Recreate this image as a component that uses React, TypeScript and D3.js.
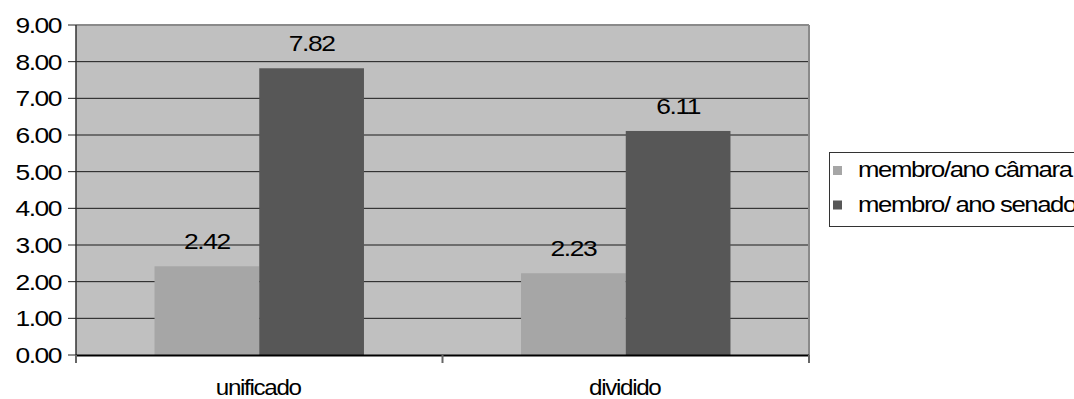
import React from "react";
import * as d3 from "d3";

// Chart data
const categories = ["unificado", "dividido"];
const seriesNames = ["membro/ano câmara", "membro/ ano senado"];
const camaraValues = [2.42, 2.23];
const senadoValues = [7.82, 6.11];
const yTicks = [0, 1, 2, 3, 4, 5, 6, 7, 8, 9];

const W = 1074;
const H = 399;
const plot = { left: 76, right: 809, top: 25, bottom: 355 };
const colors = ["#A6A6A6", "#575757"];
const FONT = "'Liberation Sans', Arial, sans-serif";

function StretchText({ x, y, sx, anchor, children, size = 22, spacing = -1.2 }) {
  return (
    <text
      transform={`translate(${x},${y}) scale(${sx},1)`}
      textAnchor={anchor}
      fontFamily={FONT}
      fontSize={size}
      letterSpacing={spacing}
      fill="#000"
    >
      {children}
    </text>
  );
}

export default function App() {
  const x0 = d3
    .scaleBand<string>()
    .domain(categories)
    .range([plot.left, plot.right])
    .paddingInner(0)
    .paddingOuter(0);
  const groupWidth = x0.bandwidth() * (2 / 3.5);
  const x1 = d3
    .scaleBand<string>()
    .domain(seriesNames)
    .range([0, groupWidth]);
  const y = d3.scaleLinear().domain([0, 9]).range([plot.bottom, plot.top]);

  const series = [camaraValues, senadoValues];
  const fmt = d3.format(".2f");

  return (
    <svg
      width={W}
      height={H}
      style={{ position: "absolute", left: 0, top: 0, background: "#fff" }}
    >
      {/* plot background */}
      <rect
        x={plot.left}
        y={plot.top}
        width={plot.right - plot.left}
        height={plot.bottom - plot.top}
        fill="#C0C0C0"
      />
      {/* gridlines */}
      {yTicks.slice(1).map((t) => (
        <line
          key={t}
          x1={plot.left}
          x2={plot.right}
          y1={y(t)}
          y2={y(t)}
          stroke="#1a1a1a"
          strokeWidth={1}
        />
      ))}
      {/* frame top and right */}
      <line x1={plot.left} x2={plot.right} y1={plot.top} y2={plot.top} stroke="#8a8a8a" strokeWidth={2} />
      <line x1={plot.right} x2={plot.right} y1={plot.top} y2={plot.bottom} stroke="#8a8a8a" strokeWidth={2} />

      {/* bars */}
      {categories.map((c, ci) => {
        const gx = (x0(c) as number) + (x0.bandwidth() - groupWidth) / 2;
        return (
          <g key={c}>
            {series.map((vals, si) => (
              <rect
                key={si}
                x={gx + (x1(seriesNames[si]) as number)}
                y={y(vals[ci])}
                width={x1.bandwidth()}
                height={y(0) - y(vals[ci])}
                fill={colors[si]}
              />
            ))}
            {series.map((vals, si) => (
              <StretchText
                key={"l" + si}
                x={gx + (x1(seriesNames[si]) as number) + x1.bandwidth() / 2}
                y={y(vals[ci]) - 17}
                sx={1.2}
                anchor="middle"
              >
                {fmt(vals[ci])}
              </StretchText>
            ))}
          </g>
        );
      })}

      {/* y axis */}
      <line x1={plot.left} x2={plot.left} y1={plot.top} y2={plot.bottom + 8} stroke="#333" strokeWidth={1.5} />
      {yTicks.map((t) => (
        <g key={t}>
          <line x1={plot.left - 8} x2={plot.left} y1={y(t)} y2={y(t)} stroke="#222" strokeWidth={1} />
          <StretchText x={61} y={y(t) + 8} sx={1.2} anchor="end">
            {fmt(t)}
          </StretchText>
        </g>
      ))}

      {/* x axis */}
      <line x1={plot.left} x2={plot.right} y1={plot.bottom + 0.5} y2={plot.bottom + 0.5} stroke="#000" strokeWidth={2} />
      {[plot.left, ...categories.map((c) => (x0(c) as number) + x0.bandwidth())].map((tx, i) => (
        <line key={i} x1={tx} x2={tx} y1={plot.bottom} y2={plot.bottom + 8} stroke="#666" strokeWidth={2} />
      ))}
      {categories.map((c) => (
        <StretchText
          key={c}
          x={(x0(c) as number) + x0.bandwidth() / 2 - 1}
          y={395}
          sx={1.1}
          anchor="middle"
        >
          {c}
        </StretchText>
      ))}

      {/* legend */}
      <rect x={829.5} y={152.5} width={260} height={74} fill="#fff" stroke="#333" strokeWidth={1} />
      {seriesNames.map((name, i) => (
        <g key={name}>
          <rect x={833} y={166 + i * 34.5} width={9} height={9} fill={colors[i]} />
          <StretchText x={858} y={177 + i * 34.5} sx={1.17} anchor="start">
            {name}
          </StretchText>
        </g>
      ))}
    </svg>
  );
}
